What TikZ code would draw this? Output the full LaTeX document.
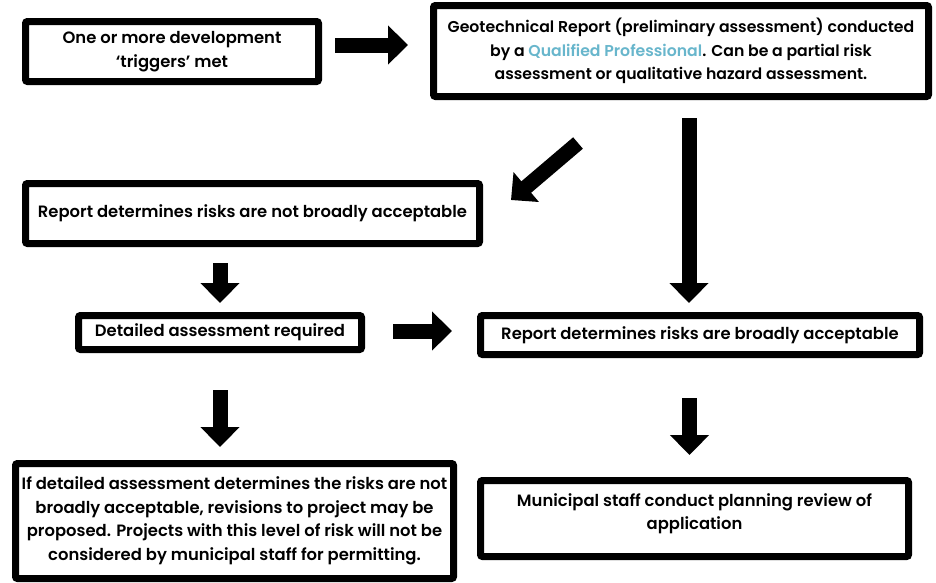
\documentclass[tikz,border=0pt]{standalone}
\usepackage{fontspec}
\setmainfont{Poppins}[BoldFont={Poppins SemiBold}]
\usetikzlibrary{arrows.meta}
\definecolor{qpblue}{RGB}{104,182,204}
\begin{document}
\begin{tikzpicture}[x=1pt, y=-1pt,
    box/.style={draw=black, line width=7pt, rounded corners=2pt, fill=white, align=center,
        inner sep=0pt, font=\bfseries\fontsize{16.4}{23.5}\selectfont},
    fat/.style={line width=15pt, -{Triangle[width=38pt, length=20pt]}}]
    \useasboundingbox (0,0) rectangle (936,582);

    \node[box, minimum width=293pt, minimum height=60pt] (trig) at (172,51.5)
        {One or more development\\`triggers' met};
    \node[box, minimum width=495pt, minimum height=91pt, font=\bfseries\fontsize{15.7}{23.5}\selectfont] (geo) at (681,51)
        {Geotechnical Report (preliminary assessment) conducted\\
         by a \textcolor{qpblue}{Qualified Professional}. Can be a partial risk\\
         assessment or qualitative hazard assessment.};
    \node[box, minimum width=454pt, minimum height=60pt] (notok) at (252.5,213.5)
        {Report determines risks are not broadly acceptable};
    \node[box, minimum width=283pt, minimum height=34pt] (detail) at (220,332.5)
        {Detailed assessment required};
    \node[box, minimum width=439pt, minimum height=39pt] (ok) at (700,335)
        {Report determines risks are broadly acceptable};
    \node[box, minimum width=438pt, minimum height=115pt] (revise) at (234.5,521)
        {If detailed assessment determines the risks are not\\
         broadly acceptable, revisions to project may be\\
         proposed. Projects with this level of risk will not be\\
         considered by municipal staff for permitting.};
    \node[box, minimum width=428pt, minimum height=76pt, text depth=14pt] (review) at (694.5,518.5)
        {Municipal staff conduct planning review of\\application};

    \draw[fat, shorten <=13pt, shorten >=22pt] ([yshift=6.5]trig.east) to ([yshift=6.5]trig.east -| geo.west);
    \draw[fat, shorten <=18pt, shorten >=9pt] ([xshift=8]geo.south) to ([xshift=8]geo.south |- ok.north);
    \draw[fat] ([shift={(-103,43)}]geo.south) to ([shift={(28,20)}]notok.north east);
    \draw[fat, shorten <=16pt, shorten >=9pt] (detail.north |- notok.south) to (detail.north);
    \draw[fat, shorten <=28pt, shorten >=25pt] ([yshift=1.5]detail.east) to ([yshift=1.5]detail.east -| ok.west);
    \draw[fat, shorten <=37pt, shorten >=13pt] (detail.south) to (detail.south |- revise.north);
    \draw[fat, shorten <=40pt, shorten >=22pt] ([xshift=-5]review.north |- ok.south) to ([xshift=-5]review.north);
\end{tikzpicture}
\end{document}
